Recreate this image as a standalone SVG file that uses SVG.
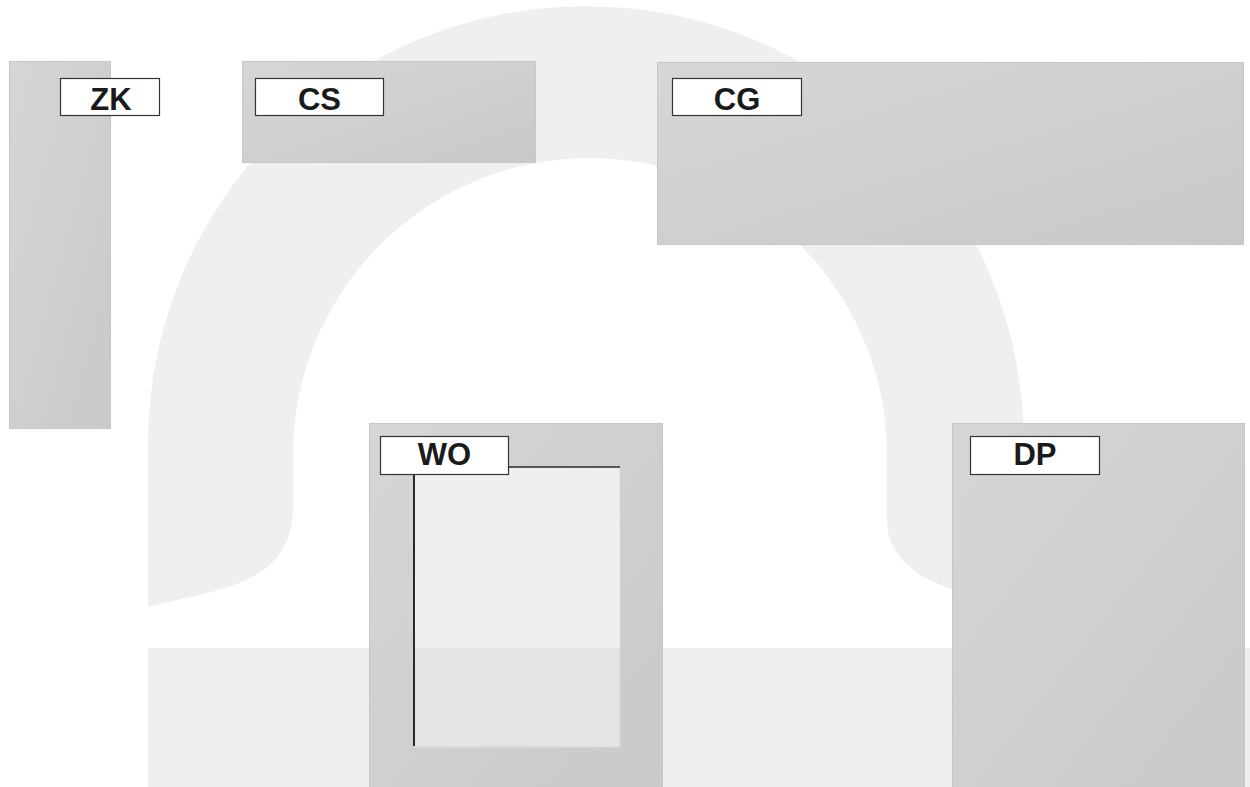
<svg xmlns="http://www.w3.org/2000/svg" width="1250" height="787" viewBox="0 0 1250 787">
  <style>
    .bg { fill: #eeefef; }
    .box { fill: url(#boxGrad); stroke: #c6c6c6; stroke-width: 1; }
    .label { fill: #ffffff; stroke: #333333; stroke-width: 1.2; }
    .txt { font-family: "Liberation Sans", Arial, sans-serif; font-weight: bold; font-size: 31px; fill: #1a1a1a; text-anchor: middle; }
  </style>
  <defs>
    <linearGradient id="boxGrad" x1="0" y1="0" x2="1" y2="1">
      <stop offset="0" stop-color="#d6d6d6"/>
      <stop offset="1" stop-color="#c9c9c9"/>
    </linearGradient>
  </defs>

  <g id="background">
    <path class="bg" d="M148,607 L148,444 A438,438 0 0 1 1024,444 L1024,600 L955,590 C915,578 887,555 887,520 L887,455 A297,297 0 0 0 293,455 L293,510 C290,580 230,588 160,604 Z"/>
    <rect class="bg" x="148" y="648" width="1102" height="139"/>
  </g>

  <g id="node-ZK">
    <rect class="box" x="9.5" y="61.5" width="101" height="367"/>
    <rect class="label" x="60.5" y="78.5" width="99" height="37"/>
    <text class="txt" x="111" y="109.5">ZK</text>
  </g>

  <g id="node-CS">
    <rect class="box" x="242.5" y="61.5" width="293" height="101"/>
    <rect class="label" x="255.5" y="78.5" width="128" height="37"/>
    <text class="txt" x="319.5" y="109.5">CS</text>
  </g>

  <g id="node-CG">
    <rect class="box" x="657.5" y="62.5" width="586" height="182"/>
    <rect class="label" x="672.5" y="78.5" width="129" height="37"/>
    <text class="txt" x="737" y="109.5">CG</text>
  </g>

  <g id="node-WO">
    <rect class="box" x="369.5" y="423.5" width="293" height="370"/>
    <rect x="414" y="467" width="206" height="181" fill="#efefef"/>
    <rect x="414" y="648" width="206" height="99" fill="#e4e4e4"/>
    <rect x="414" y="467" width="206" height="280" fill="none" stroke="#d9d9d9" stroke-width="1"/>
    <line x1="414" y1="470" x2="414" y2="746" stroke="#2a2a2a" stroke-width="2"/>
    <line x1="505" y1="467" x2="620" y2="467" stroke="#2a2a2a" stroke-width="1.5"/>
    <rect class="label" x="380.5" y="436.5" width="128" height="38"/>
    <text class="txt" x="444.5" y="464.5">WO</text>
  </g>

  <g id="node-DP">
    <rect class="box" x="952.5" y="423.5" width="292" height="370"/>
    <rect class="label" x="970.5" y="436.5" width="129" height="38"/>
    <text class="txt" x="1035" y="464.5">DP</text>
  </g>

  <g id="connectors"></g>
</svg>
